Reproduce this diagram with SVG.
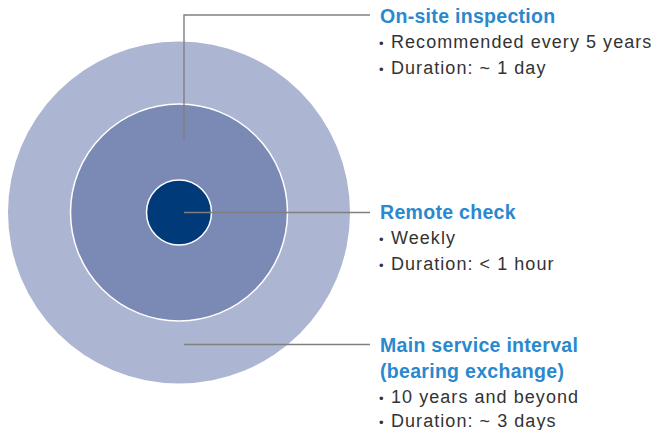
<svg xmlns="http://www.w3.org/2000/svg" width="655" height="430" viewBox="0 0 655 430">
<style>
.title{font-family:"Liberation Sans",Arial,sans-serif;font-weight:bold;font-size:19.5px;fill:#2a88cf;letter-spacing:0.3px}
.body{font-family:"Liberation Sans",Arial,sans-serif;font-size:18px;fill:#333333;letter-spacing:1.05px}
.b{font-size:13px}
.conn{fill:none;stroke:#808080;stroke-width:1.4}
</style>
<rect width="655" height="430" fill="#ffffff"/>
<g id="rings">
<circle id="outer" cx="179" cy="212.5" r="171" fill="#acb5d1"/>
<circle id="middle" cx="179" cy="212.5" r="108.5" fill="#7a8ab5" stroke="#ffffff" stroke-width="1.5"/>
<circle id="inner" cx="179" cy="212.5" r="32.5" fill="#003a78" stroke="#ffffff" stroke-width="1.5"/>
</g>
<g id="connectors">
<polyline class="conn" points="184,140 184,15 370,15"/>
<line class="conn" x1="184" y1="212.5" x2="370" y2="212.5"/>
<line class="conn" x1="184" y1="344.5" x2="370" y2="344.5"/>
</g>
<g id="onsite">
<text class="title" x="380" y="22.5">On-site inspection</text>
<text class="body" x="379" y="47.5"><tspan class="b">•</tspan><tspan x="391">Recommended every 5 years</tspan></text>
<text class="body" x="379" y="73.5"><tspan class="b">•</tspan><tspan x="391">Duration: ~ 1 day</tspan></text>
</g>
<g id="remote">
<text class="title" x="380" y="218.5">Remote check</text>
<text class="body" x="379" y="244"><tspan class="b">•</tspan><tspan x="391">Weekly</tspan></text>
<text class="body" x="379" y="269.5"><tspan class="b">•</tspan><tspan x="391">Duration: &lt; 1 hour</tspan></text>
</g>
<g id="main">
<text class="title" x="380" y="351.5">Main service interval</text>
<text class="title" x="380" y="377.5">(bearing exchange)</text>
<text class="body" x="379" y="402.5"><tspan class="b">•</tspan><tspan x="391">10 years and beyond</tspan></text>
<text class="body" x="379" y="427"><tspan class="b">•</tspan><tspan x="391">Duration: ~ 3 days</tspan></text>
</g>
</svg>
